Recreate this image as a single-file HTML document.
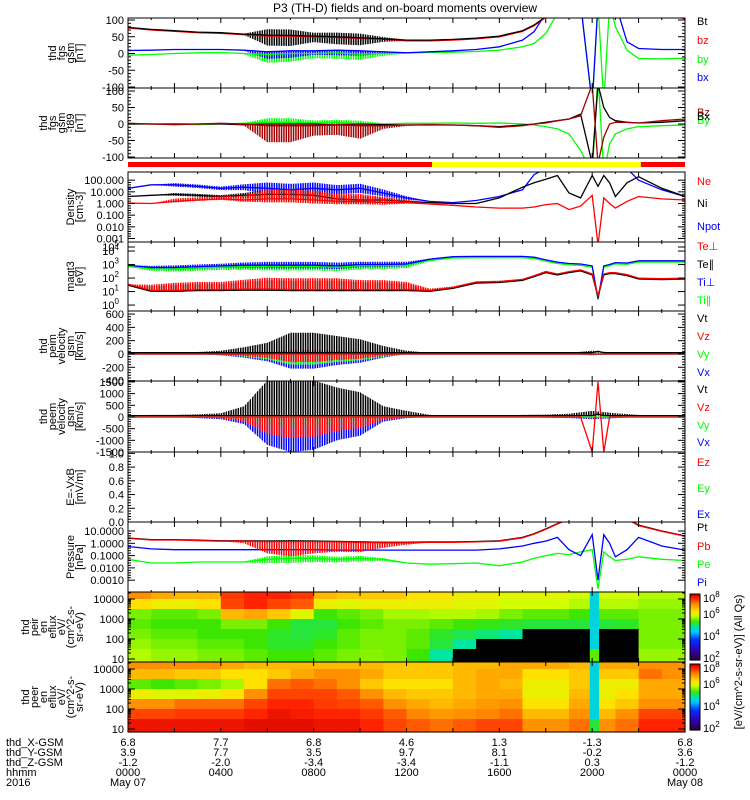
<!DOCTYPE html>
<html><head><meta charset="utf-8"><style>
html,body{margin:0;padding:0;background:#fff;}
svg{display:block;font-family:"Liberation Sans",sans-serif;}
text{font-size:11px;fill:#000;}
</style></head><body>
<svg id="fig" width="750" height="800" viewBox="0 0 750 800" xmlns="http://www.w3.org/2000/svg">
<text x="405" y="12" text-anchor="middle" style="font-size:12px">P3 (TH-D) fields and on-board moments overview</text>
<g id="layer"></g>
</svg>
<script>
// ---- time samples (hours since 2016-05-07 00:00) ----
const T=[0,1,2,3,4,5,6,7,8,9,10,11,12,13,14,15,16,17,17.5,18,18.5,19,19.5,20,20.25,20.5,20.75,21,21.5,22,23,24];
const H=[0,1,2,3,4,5,6,7,8,9,10,11,12,13,14,15,16,17,18,19,20,21,22,23,24];
// ---- panel 1: fgs gsm ----
const bt=[78,72,68,64,62,58,55,54,52,50,47,44,40,40,42,46,52,68,85,110,130,130,130,130,130,130,130,130,130,130,130,105];
const bz=[76,70,66,62,60,56,52,52,50,48,45,42,38,38,40,44,50,66,83,108,130,130,130,130,130,130,130,130,130,130,130,102];
const by=[-5,-3,0,2,3,0,-3,0,0,2,-2,0,2,3,4,6,10,20,30,60,120,150,150,-150,150,-150,150,80,10,-15,-16,-14];
const bx=[9,10,12,12,12,10,5,8,8,10,8,5,2,5,8,12,20,40,65,120,150,150,150,-150,150,150,150,150,35,15,12,12];
const act1=[0,0,0,0,0,3,35,35,20,25,25,10,3,0,0,0,0,0,0,0,0,0,0,0,0];
// ---- panel 2: fgs gsm-t89 ----
const dbx=[0,0,0,0,0,-2,0,0,0,-3,0,-2,-3,-3,-3,-5,-8,-3,0,5,10,15,30,-120,120,50,20,10,5,3,5,10];
const dbz=[2,0,-2,0,2,0,-5,-5,-5,-3,-5,-5,-3,-2,-3,-5,-10,-5,0,3,10,15,25,120,-120,-40,0,5,5,3,10,15];
const dby=[0,0,0,-2,0,2,5,5,3,5,0,0,2,2,3,2,3,0,-3,-8,-15,-30,-80,-150,150,-150,-60,-30,-15,-8,-5,-3];
const act2=[0,0,0,0,0,5,50,50,30,30,40,10,3,0,0,0,0,0,0,0,0,0,0,0,0];
// ---- density ----
const ne=[1.1,1,1.5,2,2.5,2,2.5,2.5,2,1.5,1.5,1.2,1.2,0.9,0.7,0.5,0.4,0.4,0.5,0.8,1,0.3,0.6,5,0.0003,3,1,0.4,1.5,4,2.5,2];
const ni=[4,5,6,5,4,5,6,6,5,2.5,2,2,1.5,1.2,1,1,3,25,60,120,250,8,3,250,30,250,60,4,60,200,20,4];
const npot=[20,40,40,30,20,25,20,15,20,15,20,8,3,1.5,1.2,1.8,4,15,300,1000,1000,1000,1000,1000,1000,1000,1000,1000,1000,100,15,4];
const actN=[0,0,0.3,0.3,0.3,0.5,1,1,1,0.8,0.8,0.6,0.3,0,0,0,0,0,0,0,0,0,0,0,0];
// ---- temperatures ----
const tiPerp=[900,600,600,700,800,900,900,900,900,800,1000,1000,1100,2500,3800,4000,4000,4000,3500,2200,1500,1200,1100,800,3,800,1000,1400,1300,1900,1900,1900];
const tePerp=[35,12,12,14,14,15,15,14,14,14,14,14,14,12,20,50,55,80,150,300,200,300,400,200,5,200,250,250,180,100,90,100];
const actT=[0,0.3,0.4,0.4,0.4,0.5,0.6,0.6,0.6,0.6,0.5,0.5,0.4,0.1,0.05,0.05,0.05,0,0,0,0,0,0,0,0];
// ---- velocities ----
const viBase=[20,20,20,20,20,20,20,20,20,20,20,20,20,20,20,20,20,20,20,20,20,20,20,20,40,20,20,20,20,20,20,20];
const viHi=[0,0,0,10,30,80,150,300,300,250,200,100,30,0,0,0,0,0,0,0,30,0,0,0,0];
const viLo=[0,0,0,0,-20,-50,-100,-200,-200,-150,-120,-50,0,0,0,0,0,0,0,0,-20,0,0,0,0];
const veSpike=[0,0,0,0,0,0,0,0,0,0,0,0,0,0,0,0,0,0,0,0,0,0,0,-1500,1500,-1500,0,0,0,0,0,0];
const veHi=[0,30,30,50,100,400,1500,1500,1500,1200,1000,400,200,30,0,0,0,30,40,80,200,100,30,0,0];
const veLo=[0,0,0,-50,-100,-300,-1200,-1500,-1400,-1000,-800,-200,-50,0,0,0,0,0,-30,-50,-100,-50,0,0,0];
// ---- pressures ----
const pt=[2.7,2,2,1.8,1.6,1.6,1.5,1.5,1.5,1.4,1.3,1.2,1.2,1.3,1.3,1.4,1.6,3,6,15,40,100,100,100,100,100,100,100,100,30,10,4];
const pi=[0.55,0.35,0.3,0.3,0.3,0.3,0.3,0.3,0.3,0.28,0.28,0.28,0.28,0.28,0.28,0.28,0.35,0.6,1,1.5,3,0.3,0.1,5,0.001,5,1,0.08,0.3,3,0.6,0.28];
const pe=[0.05,0.025,0.025,0.03,0.03,0.03,0.05,0.06,0.06,0.05,0.06,0.05,0.025,0.02,0.022,0.025,0.015,0.03,0.06,0.1,0.15,0.12,0.2,0.3,0.0002,0.2,0.08,0.04,0.05,0.08,0.05,0.04];
const actP=[0,0,0,0,0,0.2,1.2,1.5,1.2,1,1,0.5,0.2,0,0,0,0,0,0,0,0,0,0,0,0];
// ---- spectrograms (0..1 colour level, -1 = no counts/black) ----
const specEdges=[0,1,2,3,4,5,6,7,8,9,10,11,12,13,14,15,16,17,18,19,19.9,20.3,21,22,23,24];
const energyEdges=[4.35,4,3.5,3,2.5,2,1.5,0.85];
const ionSpec=[
[0.85,0.82,0.8,0.8,0.93,0.95,0.95,0.93,0.8,0.78,0.78,0.78,0.75,0.75,0.72,0.72,0.7,0.7,0.7,0.68,0.45,0.68,0.68,0.66,0.66],
[0.75,0.72,0.72,0.75,0.92,0.95,0.92,0.9,0.72,0.7,0.72,0.72,0.72,0.72,0.7,0.7,0.68,0.68,0.68,0.66,0.45,0.66,0.66,0.64,0.64],
[0.62,0.6,0.6,0.62,0.8,0.82,0.78,0.7,0.58,0.6,0.62,0.65,0.65,0.66,0.66,0.65,0.62,0.6,0.6,0.58,0.45,0.6,0.6,0.62,0.62],
[0.6,0.58,0.58,0.58,0.62,0.62,0.58,0.55,0.55,0.58,0.6,0.62,0.62,0.6,0.58,0.57,0.56,0.55,0.55,0.55,0.45,0.55,0.56,0.62,0.62],
[0.62,0.6,0.6,0.58,0.58,0.58,0.56,0.55,0.56,0.6,0.62,0.62,0.6,0.56,0.54,0.52,0.5,-1,-1,-1,0.45,-1,-1,0.62,0.62],
[0.64,0.62,0.62,0.6,0.6,0.58,0.56,0.56,0.58,0.6,0.62,0.62,0.6,0.55,0.5,-1,-1,-1,-1,-1,0.45,-1,-1,0.62,0.62],
[0.66,0.64,0.64,0.62,0.62,0.6,0.58,0.58,0.6,0.62,0.63,0.62,0.58,0.5,-1,-1,-1,-1,-1,-1,0.6,-1,-1,0.64,0.64]];
const eleSpec=[
[0.85,0.85,0.85,0.85,0.82,0.8,0.8,0.8,0.8,0.8,0.8,0.78,0.78,0.78,0.8,0.8,0.82,0.82,0.82,0.8,0.45,0.82,0.82,0.85,0.85],
[0.8,0.8,0.78,0.78,0.75,0.75,0.78,0.82,0.85,0.85,0.82,0.78,0.78,0.78,0.8,0.82,0.82,0.75,0.75,0.78,0.45,0.78,0.78,0.88,0.85],
[0.6,0.58,0.6,0.62,0.65,0.75,0.88,0.9,0.88,0.85,0.78,0.75,0.75,0.75,0.8,0.82,0.8,0.72,0.72,0.78,0.45,0.72,0.72,0.82,0.82],
[0.72,0.7,0.7,0.72,0.75,0.85,0.92,0.92,0.92,0.9,0.85,0.8,0.78,0.78,0.8,0.82,0.82,0.72,0.72,0.8,0.45,0.72,0.75,0.82,0.82],
[0.85,0.85,0.88,0.88,0.88,0.92,0.95,0.95,0.93,0.92,0.9,0.85,0.82,0.8,0.82,0.84,0.85,0.75,0.75,0.82,0.45,0.75,0.78,0.85,0.85],
[0.92,0.92,0.93,0.93,0.93,0.95,0.97,0.96,0.95,0.95,0.93,0.9,0.86,0.84,0.85,0.86,0.88,0.8,0.8,0.85,0.45,0.8,0.85,0.92,0.92],
[0.97,0.97,0.97,0.97,0.97,0.98,0.98,0.98,0.97,0.97,0.95,0.92,0.9,0.88,0.9,0.92,0.92,0.85,0.85,0.88,0.55,0.85,0.88,0.95,0.95]];
// ---- region bar ----
const barStarts=[0,13.1,22.1];
const barEnds=[13.1,22.1,24];
const barColors=["#ff0000","#ffff00","#ff0000"];
// ---- orbit labels ----
const tickHours=[0,4,8,12,16,20,24];
const xGsm=["6.8","7.7","6.8","4.6","1.3","-1.3","6.8"];
const yGsm=["3.9","7.7","3.5","9.7","8.1","-0.2","3.6"];
const zGsm=["-1.2","-2.0","-3.4","-3.4","-1.1","0.3","-1.2"];
const hhmm=["0000","0400","0800","1200","1600","2000","0000"];

const NS="http://www.w3.org/2000/svg";
const L=document.getElementById('layer');
const X0=128,X1=685;
function X(h){return X0+h/24*(X1-X0);}
function mk(tag,attrs,parent){const e=document.createElementNS(NS,tag);for(const k in attrs)e.setAttribute(k,attrs[k]);(parent||L).appendChild(e);return e;}
function txt(x,y,s,anchor,color,parent){const e=mk('text',{x:x,y:y,'text-anchor':anchor||'start'},parent);if(color)e.setAttribute('style','fill:'+color);e.textContent=s;return e;}

// vertical stripe patterns to mimic dense spiky data
const defs=mk('defs',{});
const patCols={'#000':'k','#ff0000':'r','#00ff00':'g','#0000ff':'b','#a00000':'d'};
for(const c in patCols){const pt_=mk('pattern',{id:'pat-'+patCols[c],width:2.4,height:10,patternUnits:'userSpaceOnUse'},defs);
 mk('rect',{x:0,y:0,width:1.5,height:10,fill:c},pt_);}

const P={
 p1:{top:18,bot:88,y0:20,y1:87,min:-100,max:100},
 p2:{top:88,bot:158,y0:91,y1:157,min:-100,max:100},
 pd:{top:172,bot:242,y0:172,y1:242,lmin:-3.3,lmax:2.7,log:1},
 pt:{top:242,bot:311,y0:242,y1:311,lmin:-0.44,lmax:4.67,log:1},
 pv:{top:311,bot:381,y0:311,y1:381,min:-406,max:646},
 pe:{top:381,bot:452,y0:381,y1:452,min:-1500,max:1540},
 pf:{top:452,bot:522,y0:452,y1:522,min:0,max:1.02},
 pp:{top:522,bot:592,y0:522,y1:592,lmin:-3.96,lmax:1.73,log:1},
 pi:{top:592,bot:662},
 pl:{top:662,bot:732}
};
function Y(p,v){ if(p.log){const l=Math.log10(Math.max(v,1e-9));return p.y0+(p.lmax-l)/(p.lmax-p.lmin)*(p.y1-p.y0);} return p.y0+(p.max-v)/(p.max-p.min)*(p.y1-p.y0);}
let clipId=0;
function clipFor(p){const id='c'+(clipId++);const cp=mk('clipPath',{id:id});mk('rect',{x:X0,y:p.top,width:X1-X0,height:p.bot-p.top},cp);return 'url(#'+id+')';}
function interp(arrT,arrV,h){for(let i=0;i<arrT.length-1;i++){if(h>=arrT[i]&&h<=arrT[i+1]){const f=(h-arrT[i])/(arrT[i+1]-arrT[i]);return arrV[i]+f*(arrV[i+1]-arrV[i]);}}return arrV[arrV.length-1];}
function line(p,vals,color,name,g){const pts=T.map((t,i)=>X(t).toFixed(1)+','+Y(p,vals[i]).toFixed(1)).join(' ');const e=mk('polyline',{points:pts,fill:'none',stroke:color,'stroke-width':1.3},g);


return e;}
function band(p,base,lo,hi,color,name,g,logMode){const up=[],dn=[];
 for(let k=0;k<H.length;k++){const h=H[k];let b=interp(T,base,h);let a,c;
  if(logMode){a=b*Math.pow(10,hi[k]);c=b*Math.pow(10,-lo[k]);}else{a=b+hi[k];c=b+lo[k];}
  up.push(X(h).toFixed(1)+','+Y(p,a).toFixed(1));dn.unshift(X(h).toFixed(1)+','+Y(p,c).toFixed(1));}
 const e=mk('polygon',{points:up.concat(dn).join(' '),fill:'url(#pat-'+patCols[color]+')',stroke:'none'},g);
 
 }
const zero=H.map(()=>0);
function scale(a,f){return a.map(v=>v*f);}

function frame(p,name){const e=mk('rect',{x:X0,y:p.top,width:X1-X0,height:p.bot-p.top,fill:'none',stroke:'#000','stroke-width':1});
 
 
 for(let h=0;h<=24;h+=1){const len=(h%2===0)?5:2;mk('line',{x1:X(h),x2:X(h),y1:p.top,y2:p.top+len,stroke:'#000'});mk('line',{x1:X(h),x2:X(h),y1:p.bot,y2:p.bot-len,stroke:'#000'});}}
function yticks(p,labels,vals,name){const g=mk('g',{});
 
 
 labels.forEach((s,i)=>{const y=Y(p,vals[i]);mk('line',{x1:X0,x2:X0+7,y1:y,y2:y,stroke:'#000'},g);mk('line',{x1:X1,x2:X1-7,y1:y,y2:y,stroke:'#000'},g);txt(124,y+4,s,'end',null,g);});
 const n=labels.length;for(let i=0;i<n-1;i++){for(let k=1;k<5;k++){const y=Y(p,vals[i])+(Y(p,vals[i+1])-Y(p,vals[i]))*k/5;mk('line',{x1:X0,x2:X0+3,y1:y,y2:y,stroke:'#000'},g);mk('line',{x1:X1,x2:X1-3,y1:y,y2:y,stroke:'#000'},g);}}}
function sup(x,y,base,exp,g){const e=mk('text',{x:x,y:y,'text-anchor':'end'},g);e.textContent=base;const t=mk('tspan',{dy:-5,style:'font-size:8px'},e);t.textContent=exp;}
function ylabel(p,lines,name){const cy=(p.top+p.bot)/2;const g=mk('g',{});
 
 
 const n=lines.length;lines.forEach((s,i)=>{const x=83-(n-1-i)*9;const e=mk('text',{x:0,y:0,'text-anchor':'middle',transform:'translate('+x+','+cy+') rotate(-90)'},g);e.textContent=s;});}
function legend(entries,name){const g=mk('g',{});
 
 
 entries.forEach(en=>txt(697,en[2],en[0],'start',en[1],g));}

// ---------- Panel 1 ----------
(function(){const p=P.p1;const g=mk('g',{'clip-path':clipFor(p)});
 
 
 band(p,by,scale(act1,-0.7),zero,'#00ff00','by-noise',g);
 band(p,bx,scale(act1,-0.6),zero,'#0000ff','bx-noise',g);
 line(p,by,'#00ff00','by-line',g);line(p,bx,'#0000ff','bx-line',g);
 band(p,bt,scale(act1,-0.9),scale(act1,0.5),'#000','bt-noise',g);
 line(p,bz,'#ff0000','bz-line',g);line(p,bt,'#000','bt-line',g);
 frame(p,'fgs-gsm-frame');yticks(p,['100','50','0','-50','-100'],[100,50,0,-50,-100],'fgs-gsm-y-axis');
 ylabel(p,['thd','fgs','gsm','[nT]'],'fgs-gsm-y-title');
 legend([['Bt','#000',25],['bz','#ff0000',44],['by','#00ff00',63],['bx','#0000ff',81]],'fgs-gsm-legend');})();
// ---------- Panel 2 ----------
(function(){const p=P.p2;const g=mk('g',{'clip-path':clipFor(p)});
 
 
 band(p,dby,scale(act2,-0.2),scale(act2,0.25),'#00ff00','dby-noise',g);
 line(p,dby,'#00ff00','dby-line',g);line(p,dbx,'#000','dbx-line',g);
 band(p,dbz,scale(act2,-1),scale(act2,0.15),'#a00000','dbz-noise',g);
 line(p,dbz,'#a00000','dbz-line',g);
 frame(p,'fgs-t89-frame');yticks(p,['100','50','0','-50','-100'],[100,50,0,-50,-100],'fgs-t89-y-axis');
 ylabel(p,['thd','fgs','gsm','-t89','[nT]'],'fgs-t89-y-title');
 legend([['Bz','#a00000',116],['By','#00ff00',124],['Bx','#000',120]],'fgs-t89-legend');})();
// ---------- region bar ----------
(function(){const g=mk('g',{});
 
 
 barStarts.forEach((s,i)=>{const r=mk('rect',{x:X(s),y:162,width:X(barEnds[i])-X(s),height:5,fill:barColors[i]},g);
 
 });})();
// ---------- Density ----------
(function(){const p=P.pd;const g=mk('g',{'clip-path':clipFor(p)});
 
 
 band(p,npot,scale(actN,0.5),scale(actN,0.5),'#0000ff','npot-noise',g,1);
 line(p,npot,'#0000ff','npot-line',g);
 band(p,ni,scale(actN,0.4),scale(actN,0.4),'#000','ni-noise',g,1);
 line(p,ni,'#000','ni-line',g);
 band(p,ne,scale(actN,0.3),scale(actN,0.8),'#ff0000','ne-noise',g,1);
 line(p,ne,'#ff0000','ne-line',g);
 frame(p,'density-frame');yticks(p,['100.000','10.000','1.000','0.100','0.010','0.001'],[100,10,1,0.1,0.01,0.001],'density-y-axis');
 ylabel(p,['Density','[cm-3]'],'density-y-title');
 legend([['Ne','#ff0000',185],['Ni','#000',207],['Npot','#0000ff',230]],'density-legend');})();
// ---------- Temperature ----------
(function(){const p=P.pt;const g=mk('g',{'clip-path':clipFor(p)});
 
 
 const tiPar=scale(tiPerp,0.8),teBar=scale(tePerp,0.85);
 band(p,tiPar,scale(actT,0.5),scale(actT,0.3),'#00ff00','tipar-noise',g,1);
 band(p,tiPerp,scale(actT,0.4),scale(actT,0.4),'#0000ff','tiperp-noise',g,1);
 line(p,tiPar,'#00ff00','tipar-line',g);line(p,tiPerp,'#0000ff','tiperp-line',g);
 band(p,teBar,scale(actT,0.1),scale(actT,1.2),'#000','tepar-noise',g,1);
 band(p,tePerp,scale(actT,0.1),scale(actT,1.4),'#ff0000','teperp-noise',g,1);
 line(p,teBar,'#000','tepar-line',g);line(p,tePerp,'#ff0000','teperp-line',g);
 frame(p,'temperature-frame');
 const ax=mk('g',{});
 [5,4,3,2,1,0].forEach(e=>{const y=Math.max(Y(p,Math.pow(10,e)),247);mk('line',{x1:X0,x2:X0+7,y1:y,y2:y,stroke:'#000'},ax);mk('line',{x1:X1,x2:X1-7,y1:y,y2:y,stroke:'#000'},ax);sup(124-5,y+4,'10',e,ax);});
 ylabel(p,['magt3','[eV]'],'temperature-y-title');
 legend([['Te\u22A5','#ff0000',250],['Te\u2225','#000',268],['Ti\u22A5','#0000ff',286],['Ti\u2225','#00ff00',304]],'temperature-legend');})();
// ---------- Ion velocity ----------
(function(){const p=P.pv;const g=mk('g',{'clip-path':clipFor(p)});
 
 
 const z=T.map(()=>0);
 band(p,z,scale(viLo,1.1),zero,'#0000ff','vix-noise',g);
 band(p,z,scale(viLo,0.8),zero,'#00ff00','viy-noise',g);
 band(p,z,scale(viLo,0.6),scale(viHi,0.2),'#ff0000','viz-noise',g);
 band(p,viBase,zero,viHi,'#000','vit-noise',g);
 line(p,z,'#0000ff','vix-line',g);line(p,z,'#00ff00','viy-line',g);line(p,z,'#ff0000','viz-line',g);line(p,viBase,'#000','vit-line',g);
 frame(p,'ion-velocity-frame');yticks(p,['600','400','200','0','-200','-400'],[600,400,200,0,-200,-400],'ion-velocity-y-axis');
 ylabel(p,['thd','peim','velocity','gsm','[km/s]'],'ion-velocity-y-title');
 legend([['Vt','#000',322],['Vz','#ff0000',340],['Vy','#00ff00',358],['Vx','#0000ff',376]],'ion-velocity-legend');})();
// ---------- Electron velocity ----------
(function(){const p=P.pe;const g=mk('g',{'clip-path':clipFor(p)});
 
 
 const z=T.map(()=>0);
 band(p,z,veLo,zero,'#0000ff','vex-noise',g);
 band(p,z,scale(veLo,0.3),zero,'#00ff00','vey-noise',g);
 band(p,z,scale(veLo,0.6),zero,'#ff0000','vez-noise',g);
 band(p,scale(viBase,3),zero,veHi,'#000','vet-noise',g);
 line(p,z,'#00ff00','vey-line',g);line(p,veSpike,'#ff0000','vez-line',g);line(p,scale(viBase,3),'#000','vet-line',g);
 frame(p,'electron-velocity-frame');yticks(p,['1500','1000','500','0','-500','-1000','-1500'],[1500,1000,500,0,-500,-1000,-1500],'electron-velocity-y-axis');
 ylabel(p,['thd','peem','velocity','gsm','[km/s]'],'electron-velocity-y-title');
 legend([['Vt','#000',393],['Vz','#ff0000',411],['Vy','#00ff00',429],['Vx','#0000ff',446]],'electron-velocity-legend');})();
// ---------- E field ----------
(function(){const p=P.pf;frame(p,'efield-frame');
 yticks(p,['1.0','0.8','0.6','0.4','0.2','0.0'],[1,0.8,0.6,0.4,0.2,0],'efield-y-axis');
 ylabel(p,['E=-VxB','[mV/m]'],'efield-y-title');
 legend([['Ez','#ff0000',466],['Ey','#00ff00',492],['Ex','#0000ff',518]],'efield-legend');})();
// ---------- Pressure ----------
(function(){const p=P.pp;const g=mk('g',{'clip-path':clipFor(p)});
 
 
 band(p,pe,scale(actP,0.25),scale(actP,0.2),'#00ff00','pe-noise',g,1);
 line(p,pe,'#00ff00','pe-line',g);line(p,pi,'#0000ff','pi-line',g);
 band(p,pt,scale(actP,0.05),scale(actP,0.06),'#000','pt-noise',g,1);
 const pb=scale(pt,0.92);
 band(p,pb,scale(actP,0.8),zero,'#ff0000','pb-noise',g,1);
 line(p,pt,'#000','pt-line',g);line(p,pb,'#ff0000','pb-line',g);
 frame(p,'pressure-frame');yticks(p,['10.0000','1.0000','0.1000','0.0100','0.0010'],[10,1,0.1,0.01,0.001],'pressure-y-axis');
 ylabel(p,['Pressure','[nPa]'],'pressure-y-title');
 legend([['Pt','#000',531],['Pb','#ff0000',550],['Pe','#00ff00',568],['Pi','#0000ff',586]],'pressure-legend');})();
// ---------- Spectrograms ----------
const cstops=[[0,[40,0,70]],[0.15,[50,0,190]],[0.3,[0,50,255]],[0.42,[0,200,255]],[0.5,[0,230,160]],[0.58,[60,230,0]],[0.68,[210,255,0]],[0.75,[255,225,0]],[0.85,[255,145,0]],[0.95,[255,35,0]],[1,[210,0,0]]];
function cmap(v){if(v<0)return '#000';for(let i=0;i<cstops.length-1;i++){const a=cstops[i],b=cstops[i+1];if(v<=b[0]){const f=(v-a[0])/(b[0]-a[0]);const c=a[1].map((x,k)=>Math.round(x+f*(b[1][k]-x)));return 'rgb('+c.join(',')+')';}}return 'rgb(210,0,0)';}
function spec(p,data,name,title){const eMax=energyEdges[0],eMin=energyEdges[energyEdges.length-1];
 const EY=e=>p.top+(eMax-e)/(eMax-eMin)*(p.bot-p.top);
 const g=mk('g',{});
 data.forEach((row,r)=>row.forEach((v,c)=>{const x0=X(specEdges[c]),x1=X(specEdges[c+1]);const y0=EY(energyEdges[r]),y1=EY(energyEdges[r+1]);
  const e=mk('rect',{x:x0.toFixed(1),y:y0.toFixed(1),width:(x1-x0+0.6).toFixed(1),height:(y1-y0+0.6).toFixed(1),fill:cmap(v)},g);
  
  }));
 mk('rect',{x:X0,y:p.top,width:X1-X0,height:p.bot-p.top,fill:'none',stroke:'#000'});
 for(let h=0;h<=24;h+=2){mk('line',{x1:X(h),x2:X(h),y1:p.top,y2:p.top+4,stroke:'#000'});mk('line',{x1:X(h),x2:X(h),y1:p.bot,y2:p.bot-4,stroke:'#000'});}
 const ax=mk('g',{});
 [[4,'10000'],[3,'1000'],[2,'100'],[1,'10']].forEach(d=>{const y=EY(d[0]);mk('line',{x1:X0,x2:X0+7,y1:y,y2:y,stroke:'#000'},ax);mk('line',{x1:X1,x2:X1-7,y1:y,y2:y,stroke:'#000'},ax);txt(124,y+4,d[1],'end',null,ax);
   for(let k=2;k<10;k++){const yy=EY(d[0]+Math.log10(k));if(yy>p.top){mk('line',{x1:X0,x2:X0+3,y1:yy,y2:yy,stroke:'#000'},ax);mk('line',{x1:X1,x2:X1-3,y1:yy,y2:yy,stroke:'#000'},ax);}}});
 ylabel(p,title,name+'-y-title');
 const cb=mk('g',{});
 const n=35;for(let i=0;i<n;i++){const v=1-i/(n-1);mk('rect',{x:690,y:p.top+2+i*(p.bot-p.top-4)/n,width:10,height:(p.bot-p.top-4)/n+0.6,fill:cmap(v)},cb);}
 mk('rect',{x:690,y:p.top+2,width:10,height:p.bot-p.top-4,fill:'none',stroke:'#000'},cb);
 [['8',p.top+6],['6',p.top+22],['4',p.top+44],['2',p.top+66]].forEach(d=>{const t=mk('text',{x:703,y:d[1]+4},cb);t.textContent='10';const s=mk('tspan',{dy:-5,style:'font-size:8px'},t);s.textContent=d[0];});}
spec(P.pi,ionSpec,'ion-spectrogram',['thd','peir','en','eflux','eV/','(cm^2-s-','sr-eV)']);
spec(P.pl,eleSpec,'electron-spectrogram',['thd','peer','en','eflux','eV/','(cm^2-s-','sr-eV)']);
(function(){const e=mk('text',{x:0,y:0,'text-anchor':'middle',transform:'translate(742,662) rotate(-90)'});e.textContent='[eV/(cm^2-s-sr-eV)] (All Qs)';
 
 })();
// ---------- bottom orbit/time labels ----------
(function(){const g=mk('g',{});
 const rows=[['thd_X-GSM',xGsm,746],['thd_Y-GSM',yGsm,756],['thd_Z-GSM',zGsm,766],['hhmm',hhmm,776]];
 rows.forEach(r=>{txt(6,r[2],r[0],'start',null,g);r[1].forEach((s,i)=>txt(X(tickHours[i]),r[2],s,'middle',null,g));});
 txt(6,786,'2016','start',null,g);txt(X(0),786,'May 07','middle',null,g);txt(X(24),786,'May 08','middle',null,g);})();
</script>
</body></html>
